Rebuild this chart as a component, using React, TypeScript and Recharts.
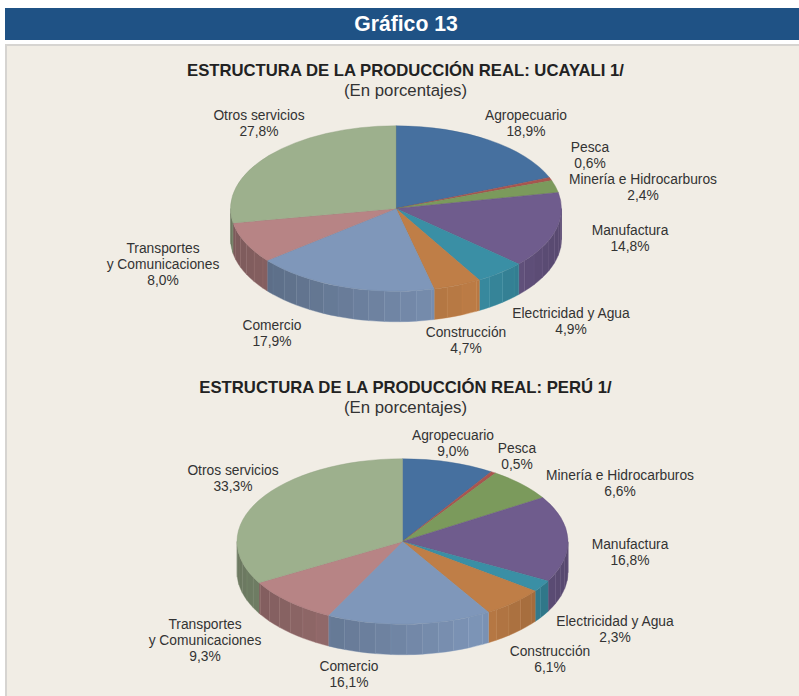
import { Pie, PieChart } from "recharts"

const CATEGORIES = [
  "Agropecuario",
  "Pesca",
  "Minería e Hidrocarburos",
  "Manufactura",
  "Electricidad y Agua",
  "Construcción",
  "Comercio",
  "Transportes y Comunicaciones",
  "Otros servicios",
]
const UCAYALI = [18.9, 0.6, 2.4, 14.8, 4.9, 4.7, 17.9, 8.0, 27.8]
const PERU = [9.0, 0.5, 6.6, 16.8, 2.3, 6.1, 16.1, 9.3, 33.3]
const COLORS = ["#46709f", "#a9554f", "#7b9a5c", "#6f5c8d", "#3a8fa5", "#bf7e47", "#7f97ba", "#b78485", "#9db08d"]

// label anchors (center x, first baseline y), in page pixels
const UCAYALI_LABELS = [
  [526, 120], [590, 152], [643, 184], [630, 235], [571, 317.5], [466, 336.5], [272, 330], [163, 252.5], [259, 119.5],
]
const PERU_LABELS = [
  [453, 439.5], [517, 452.5], [620, 479.5], [630, 548.5], [615, 625.5], [550, 655.5], [349, 670.5], [205, 628.5], [233, 474.5],
]

const fmt = (v: number) => v.toFixed(1).replace(".", ",") + "%"
const toTable = (values: number[]) => values.map((value, i) => ({ name: CATEGORIES[i], value, fill: COLORS[i] }))

const SQUASH = 0.5
const DEPTH = 30.5
const FACET = 5.5
const RAD = Math.PI / 180

function shade(hex: string, k: number) {
  const n = parseInt(hex.slice(1), 16)
  const c = [(n >> 16) & 255, (n >> 8) & 255, n & 255].map((v) => Math.round(Math.min(255, v * k)))
  return `rgb(${c.join(",")})`
}

// wall brightness by horizontal position on the rim (-1 left, 1 right)
function wallLight(x: number) {
  if (x < 0.45) return 0.68 + ((x + 1) / 1.45) * 0.3
  return 0.98 - ((x - 0.45) / 0.55) * 0.2
}

function PieSlice(props: any) {
  const { cx, cy, outerRadius: r, startAngle, endAngle, fill } = props
  const pt = (deg: number, dy = 0) => [cx + r * Math.cos(deg * RAD), cy - r * SQUASH * Math.sin(deg * RAD) + dy]
  const arc = (a: number, b: number, dy = 0) => {
    const [x, y] = pt(b, dy)
    const large = Math.abs(a - b) > 180 ? 1 : 0
    return `A${r} ${r * SQUASH} 0 ${large} ${a > b ? 1 : 0} ${x} ${y}`
  }
  const [hi, lo] = [Math.max(startAngle, endAngle), Math.min(startAngle, endAngle)]
  const [sx, sy] = pt(hi)

  // front wall only exists where the rim runs between 180 and 360 degrees
  const facets: any[] = []
  for (const shift of [0, -360, 360]) {
    const from = Math.min(hi + shift, 0)
    const to = Math.max(lo + shift, -180)
    if (from <= to) continue
    let a = from
    while (a > to + 0.001) {
      const stepEnd = Math.max(to, Math.ceil((a - 0.001 + 270) / FACET - 1) * FACET - 270)
      const [x0, y0] = pt(a)
      const [x1, y1] = pt(stepEnd)
      const k = wallLight(Math.cos(((a + stepEnd) / 2) * RAD))
      facets.push(
        <path
          key={`${shift}-${a}`}
          d={`M${x0} ${y0}${arc(a, stepEnd)}L${x1} ${y1 + DEPTH}${arc(stepEnd, a, DEPTH)}Z`}
          fill={shade(fill, k)}
          stroke={shade(fill, Math.min(1.1, k + 0.07))}
          strokeWidth={0.4}
        />,
      )
      a = stepEnd
    }
  }

  return (
    <g>
      {facets}
      <path d={`M${cx} ${cy}L${sx} ${sy}${arc(hi, lo)}Z`} fill={fill} stroke={shade(fill, 0.9)} strokeWidth={0.4} />
    </g>
  )
}

function sliceLabel(positions: number[][]) {
  return (p: any) => {
    const [x, y] = positions[p.index]
    const lines =
      p.index === 7 ? ["Transportes", "y Comunicaciones", fmt(p.value)] : [p.name, fmt(p.value)]
    return (
      <text x={x} y={y} textAnchor="middle" fontSize={13.8} fill="#333" fontFamily="Liberation Sans">
        {lines.map((line, i) => (
          <tspan key={i} x={x} dy={i === 0 ? 0 : 16}>
            {line}
          </tspan>
        ))}
      </text>
    )
  }
}

function Heading({ top, title }: { top: number; title: string }) {
  return (
    <div style={{ position: "absolute", left: 5, width: 801, top, textAlign: "center", color: "#222" }}>
      <div style={{ fontWeight: 700, fontSize: 16.7, lineHeight: "20px" }}>{title}</div>
      <div style={{ fontSize: 16.8, lineHeight: "20px", color: "#333" }}>(En porcentajes)</div>
    </div>
  )
}

function Pie3D({ values, labels, cx, cy, rx }: { values: number[]; labels: number[][]; cx: number; cy: number; rx: number }) {
  return (
    <PieChart
      width={799}
      height={696}
      margin={{ top: 0, right: 0, bottom: 0, left: 0 }}
      style={{ position: "absolute", left: 0, top: 0 }}
    >
      <Pie
        data={toTable(values)}
        dataKey="value"
        nameKey="name"
        cx={cx}
        cy={cy}
        innerRadius={0}
        outerRadius={rx}
        startAngle={90}
        endAngle={-270}
        stroke="none"
        shape={PieSlice}
        label={sliceLabel(labels)}
        labelLine={false}
        isAnimationActive={false}
      />
    </PieChart>
  )
}

export default function App() {
  return (
    <div
      style={{
        position: "absolute",
        left: 0,
        top: 0,
        width: 799,
        height: 696,
        overflow: "hidden",
        background: "#fff",
        fontFamily: "Liberation Sans, Arial, sans-serif",
      }}
    >
      <div
        style={{
          position: "absolute",
          left: 5,
          top: 8,
          width: 794,
          height: 32,
          background: "#1f5285",
          color: "#fff",
          fontWeight: 700,
          fontSize: 21.2,
          lineHeight: "32px",
          textAlign: "center",
          textIndent: 8,
        }}
      >
        Gráfico 13
      </div>
      <div
        style={{
          position: "absolute",
          left: 5,
          top: 44,
          width: 794,
          height: 660,
          boxSizing: "border-box",
          background: "#f1ede5",
          borderTop: "2px solid #d6d4d1",
          borderLeft: "2px solid #d6d4d1",
        }}
      />
      <Heading top={61} title="ESTRUCTURA DE LA PRODUCCIÓN REAL: UCAYALI 1/" />
      <Heading top={378} title="ESTRUCTURA DE LA PRODUCCIÓN REAL: PERÚ 1/" />
      <Pie3D values={UCAYALI} labels={UCAYALI_LABELS} cx={396} cy={208.5} rx={165.5} />
      <Pie3D values={PERU} labels={PERU_LABELS} cx={402.5} cy={541.5} rx={165.5} />
    </div>
  )
}
